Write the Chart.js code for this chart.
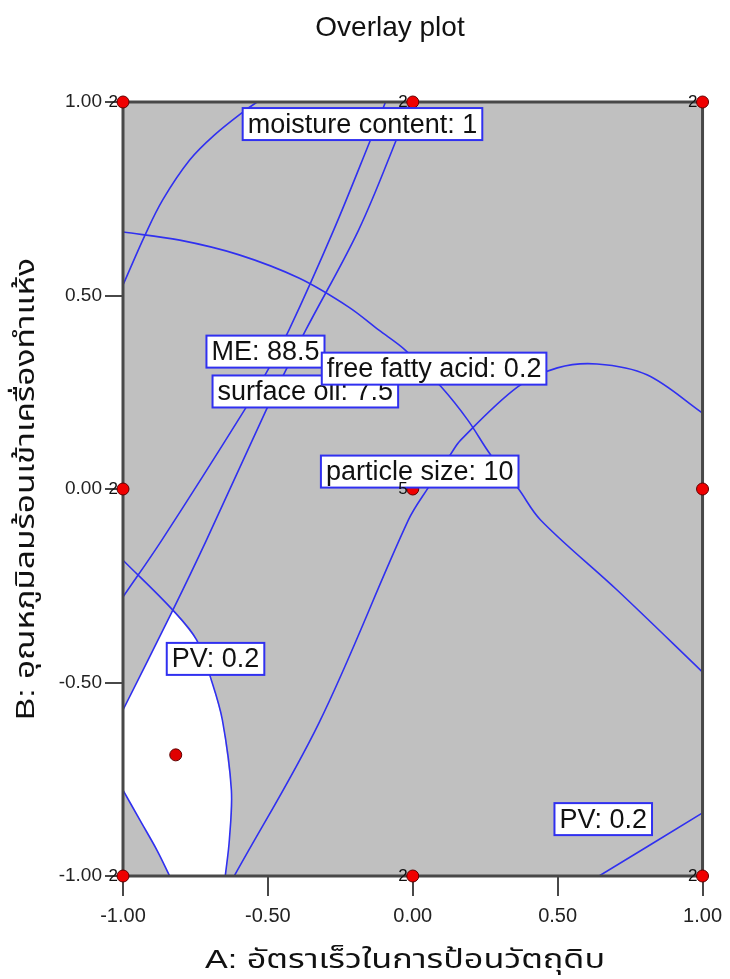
<!DOCTYPE html>
<html>
<head>
<meta charset="utf-8">
<script src="https://cdn.jsdelivr.net/npm/chart.js@4.4.0/dist/chart.umd.min.js"></script>
<style>
  html, body { margin: 0; padding: 0; background: #fff; }
  canvas { display: block; }
</style>
</head>
<body>
<canvas id="chart" width="730" height="979"></canvas>
<script>
const titleText = 'Overlay plot';
const xTitle = 'A: อัตราเร็วในการป้อนวัตถุดิบ';
const yTitle = 'B: อุณหภูมิลมร้อนเข้าเครื่องทำแห้ง';
const tickValues = [-1, -0.5, 0, 0.5, 1];

// contour lines, coded units (A, B)
const arcTopLeft = [
  {x: -0.537, y: 1.0}, {x: -0.581, y: 0.977}, {x: -0.684, y: 0.915}, {x: -0.770, y: 0.850},
  {x: -0.863, y: 0.747}, {x: -0.924, y: 0.656}, {x: -1.0, y: 0.527}
];
const curveBig = [
  {x: -1.0, y: 0.664}, {x: -0.804, y: 0.643}, {x: -0.599, y: 0.605}, {x: -0.393, y: 0.545},
  {x: -0.221, y: 0.470}, {x: -0.118, y: 0.411}, {x: -0.026, y: 0.359}, {x: 0.098, y: 0.264},
  {x: 0.190, y: 0.178}, {x: 0.269, y: 0.088}, {x: 0.362, y: 0.003}, {x: 0.441, y: -0.080},
  {x: 0.705, y: -0.261}, {x: 1.0, y: -0.473}
];
const lineMoistA = [
  {x: -0.094, y: 1.0}, {x: -0.146, y: 0.902}, {x: -0.273, y: 0.669}, {x: -0.427, y: 0.411},
  {x: -0.496, y: 0.313}, {x: -0.581, y: 0.204}, {x: -0.866, y: -0.132}, {x: -1.0, y: -0.279}
];
const lineMoistB = [
  {x: -0.009, y: 1.0}, {x: -0.057, y: 0.902}, {x: -0.187, y: 0.669}, {x: -0.369, y: 0.411},
  {x: -0.434, y: 0.313}, {x: -0.506, y: 0.204}, {x: -0.712, y: -0.132}, {x: -0.828, y: -0.313},
  {x: -1.0, y: -0.571}
];
const curveFfa = [
  {x: -0.616, y: -1.0}, {x: -0.324, y: -0.605}, {x: -0.015, y: -0.080}, {x: 0.053, y: 0.003},
  {x: 0.129, y: 0.088}, {x: 0.166, y: 0.127}, {x: 0.362, y: 0.264},
  {x: 0.499, y: 0.313}, {x: 0.636, y: 0.323}, {x: 0.808, y: 0.295}, {x: 1.0, y: 0.196}
];
const pvRight = [
  {x: -1.0, y: -0.184}, {x: -0.828, y: -0.313}, {x: -0.746, y: -0.390}, {x: -0.695, y: -0.494},
  {x: -0.657, y: -0.597}, {x: -0.626, y: -0.778}, {x: -0.633, y: -0.907}, {x: -0.647, y: -1.0}
];
const pvLeft = [
  {x: -1.0, y: -0.778}, {x: -0.942, y: -0.855}, {x: -0.883, y: -0.933}, {x: -0.839, y: -1.0}
];
const pvCorner = [
  {x: 0.643, y: -1.0}, {x: 1.0, y: -0.837}
];
// feasible (white) window
const sweetSpot = [
  {x: -1.0, y: -0.571}, {x: -0.828, y: -0.313}, {x: -0.746, y: -0.390}, {x: -0.695, y: -0.494},
  {x: -0.657, y: -0.597}, {x: -0.626, y: -0.778}, {x: -0.633, y: -0.907}, {x: -0.647, y: -1.0},
  {x: -0.839, y: -1.0}, {x: -0.883, y: -0.933}, {x: -0.942, y: -0.855}, {x: -1.0, y: -0.778}
];

const designPoints = [
  {x: -1, y: 1}, {x: 0, y: 1}, {x: 1, y: 1},
  {x: -1, y: 0}, {x: 0, y: 0}, {x: 1, y: 0},
  {x: -1, y: -1}, {x: 0, y: -1}, {x: 1, y: -1}
];
const designRuns = ['2', '2', '2', '2', '5', '', '2', '2', '2'];
const optimumPoint = [{x: -0.818, y: -0.687}];

const contourLabels = [
  {text: 'moisture content: 1', x: -0.587, y: 0.943},
  {text: 'ME: 88.5', x: -0.712, y: 0.355},
  {text: 'surface oil: 7.5', x: -0.691, y: 0.252},
  {text: 'free fatty acid: 0.2', x: -0.314, y: 0.311},
  {text: 'particle size: 10', x: -0.317, y: 0.045},
  {text: 'PV: 0.2', x: -0.849, y: -0.439},
  {text: 'PV: 0.2', x: 0.489, y: -0.853}
];

const FONT = "'Liberation Sans', Arial, 'Noto Sans Thai', Tahoma, 'DejaVu Sans', sans-serif";
const BLUE = 'rgb(48, 48, 240)';

function contour(data) {
  return {
    data: data, showLine: true, fill: false, borderColor: BLUE, borderWidth: 1.6,
    pointRadius: 0, tension: 0.35, order: 5
  };
}

const plotBackground = {
  id: 'plotBackground',
  beforeDraw(chart) {
    const {ctx, chartArea: a} = chart;
    ctx.save();
    ctx.fillStyle = '#c0c0c0';
    ctx.fillRect(a.left, a.top, a.right - a.left, a.bottom - a.top);
    ctx.restore();
  },
  beforeDatasetDraw(chart, args) {
    if (args.index !== chart.data.datasets.length - 1) return;
    // frame goes under the design points
    const {ctx, chartArea: a} = chart;
    ctx.save();
    ctx.strokeStyle = '#484848';
    ctx.lineWidth = 3;
    ctx.strokeRect(a.left, a.top, a.right - a.left, a.bottom - a.top);
    ctx.restore();
  }
};

// stretched text, the Thai fallback font is narrower than the original one
function drawStretched(ctx, text, cx, cy, size, targetWidth, angle) {
  ctx.save();
  ctx.font = size + 'px ' + FONT;
  ctx.textAlign = 'center';
  ctx.textBaseline = 'middle';
  ctx.fillStyle = '#111';
  const w = ctx.measureText(text).width;
  ctx.translate(cx, cy);
  ctx.rotate(angle);
  ctx.scale(targetWidth ? targetWidth / w : 1, 1);
  ctx.fillText(text, 0, 0);
  ctx.restore();
}

const labelBoxes = {
  id: 'labelBoxes',
  afterDatasetsDraw(chart) {
    const {ctx, scales: {x, y}} = chart;
    ctx.save();
    ctx.font = '27px ' + FONT;
    ctx.textBaseline = 'middle';
    ctx.textAlign = 'left';
    contourLabels.forEach(l => {
      const px = x.getPixelForValue(l.x);
      const py = y.getPixelForValue(l.y);
      const w = ctx.measureText(l.text).width + 10;
      ctx.fillStyle = '#fff';
      ctx.fillRect(px, py - 16, w, 32);
      ctx.strokeStyle = BLUE;
      ctx.lineWidth = 2;
      ctx.strokeRect(px, py - 16, w, 32);
      ctx.fillStyle = '#111';
      ctx.fillText(l.text, px + 5, py + 1);
    });

    // replicate counts next to design points
    const meta = chart.getDatasetMeta(chart.data.datasets.length - 1);
    ctx.font = '17px ' + FONT;
    ctx.textAlign = 'right';
    ctx.fillStyle = '#111';
    meta.data.forEach((pt, i) => {
      if (designRuns[i]) ctx.fillText(designRuns[i], pt.x - 5, pt.y);
    });
    ctx.restore();
  },
  afterDraw(chart) {
    const {ctx} = chart;
    drawStretched(ctx, titleText, 390, 28, 28, 0, 0);
    drawStretched(ctx, xTitle, 405, 961, 26, 400, 0);
    drawStretched(ctx, yTitle, 27, 489, 26, 462, -Math.PI / 2);
  }
};

new Chart(document.getElementById('chart'), {
  type: 'scatter',
  data: {
    datasets: [
      {data: sweetSpot, showLine: true, fill: 'shape', backgroundColor: '#ffffff',
       borderWidth: 0, borderColor: 'rgba(0,0,0,0)', pointRadius: 0, order: 10},
      contour(arcTopLeft),
      contour(curveBig),
      contour(lineMoistA),
      contour(lineMoistB),
      contour(curveFfa),
      contour(pvRight),
      contour(pvLeft),
      contour(pvCorner),
      {data: optimumPoint, pointRadius: 6, backgroundColor: '#e00000', borderColor: '#600000',
       borderWidth: 1, order: 1},
      {data: designPoints, pointRadius: 6, backgroundColor: '#f00000', borderColor: '#600000',
       borderWidth: 1, clip: false, order: 0}
    ]
  },
  options: {
    responsive: false,
    animation: false,
    devicePixelRatio: 1,
    layout: {padding: {left: 0, right: 24, top: 102, bottom: 0}},
    plugins: {
      legend: {display: false},
      tooltip: {enabled: false},
      title: {display: false}
    },
    scales: {
      x: {
        type: 'linear', min: -1, max: 1,
        afterBuildTicks: s => { s.ticks = tickValues.map(v => ({value: v})); },
        afterFit: s => { s.height = 103; },
        ticks: {callback: v => v.toFixed(2), color: '#222', padding: 8,
                font: {family: FONT, size: 20}, maxRotation: 0},
        grid: {drawOnChartArea: false, tickLength: 20, color: '#484848', lineWidth: 2},
        border: {display: false},
        title: {display: false}
      },
      y: {
        type: 'linear', min: -1, max: 1,
        afterBuildTicks: s => { s.ticks = tickValues.map(v => ({value: v})); },
        afterFit: s => { s.width = 123; },
        ticks: {callback: v => v.toFixed(2), color: '#222', padding: 3,
                font: {family: FONT, size: 19}},
        grid: {drawOnChartArea: false, tickLength: 18, color: '#484848', lineWidth: 2},
        border: {display: false},
        title: {display: false}
      }
    }
  },
  plugins: [plotBackground, labelBoxes]
});
</script>
</body>
</html>
